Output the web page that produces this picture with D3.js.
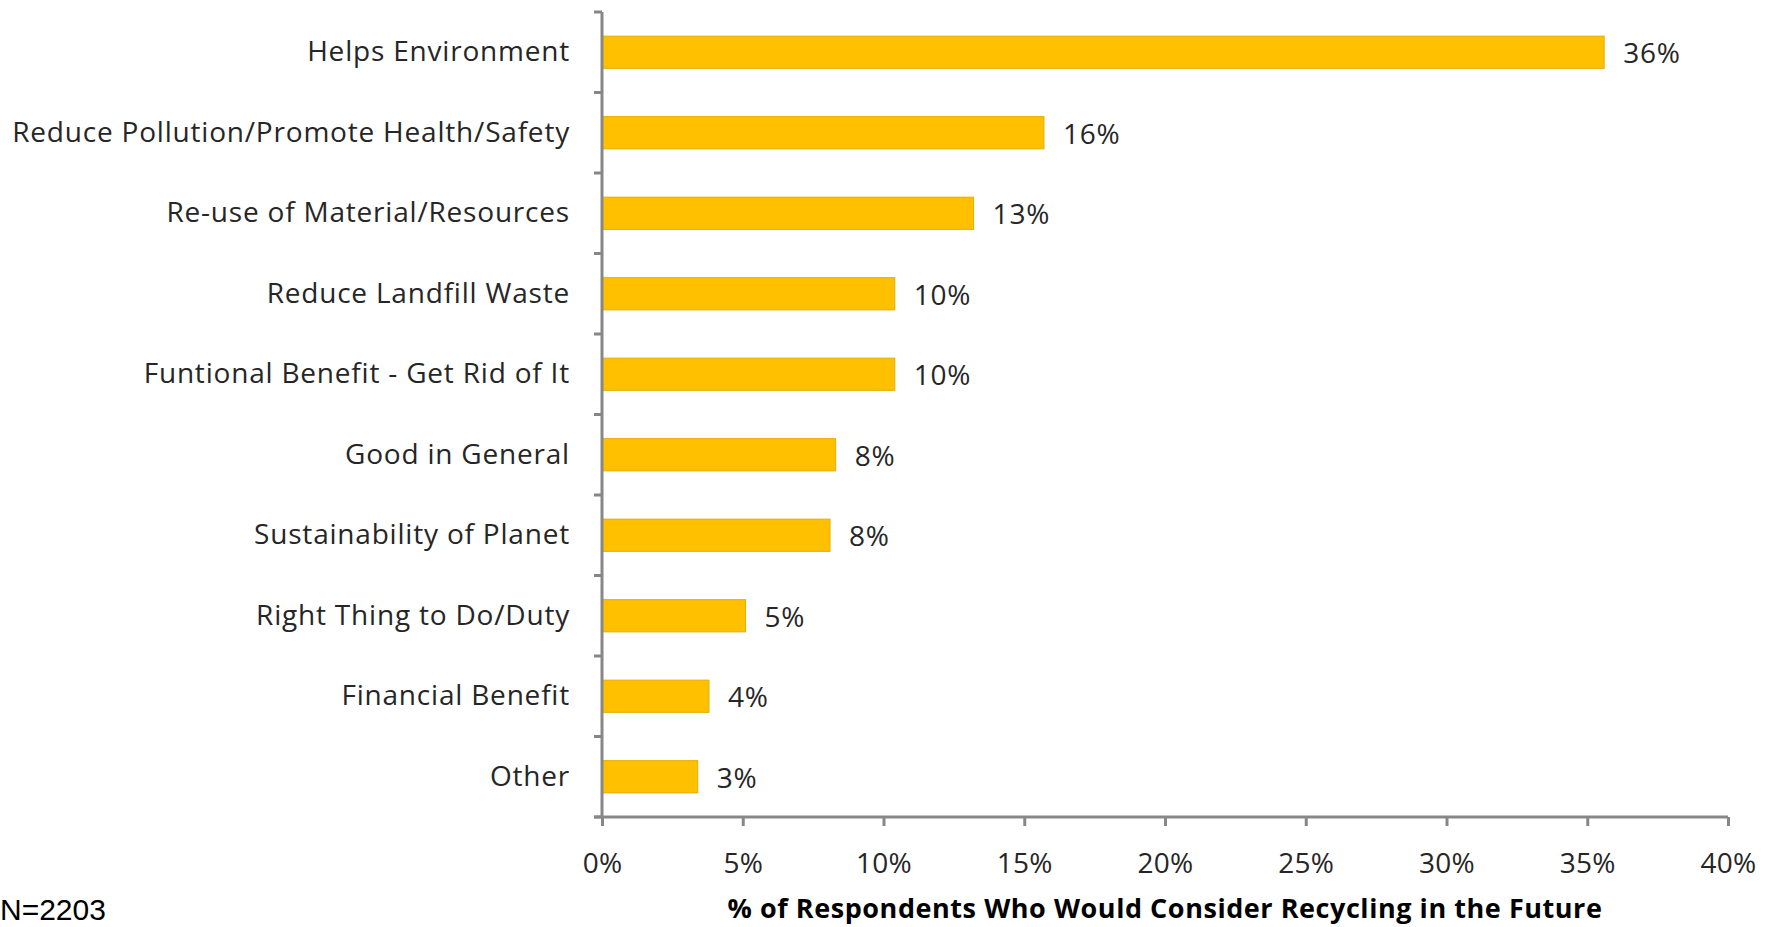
<!DOCTYPE html>
<html>
<head>
<meta charset="utf-8">
<script src="https://cdn.jsdelivr.net/npm/d3@7"></script>
<style>
  html, body { margin: 0; padding: 0; background: #fff; }
  svg { display: block; }
</style>
</head>
<body>
<svg id="chart" width="1765" height="927"></svg>
<script>
const categories = [
  "Helps Environment",
  "Reduce Pollution/Promote Health/Safety",
  "Re-use of Material/Resources",
  "Reduce Landfill Waste",
  "Funtional Benefit - Get Rid of It",
  "Good in General",
  "Sustainability of Planet",
  "Right Thing to Do/Duty",
  "Financial Benefit",
  "Other"
];
const values = [35.6, 15.7, 13.2, 10.4, 10.4, 8.3, 8.1, 5.1, 3.8, 3.4];
const valueLabels = ["36%", "16%", "13%", "10%", "10%", "8%", "8%", "5%", "4%", "3%"];
const xTicks = [0, 5, 10, 15, 20, 25, 30, 35, 40];
const xTitle = "% of Respondents Who Would Consider Recycling in the Future";
const note = "N=2203";

(function () {
const svg = d3.select("#chart");
const mLeft = 602, mRight = 1728, mTop = 12, mBottom = 817;
const axisColor = "#878787";
const textColor = "#262626";
const font = "'Open Sans', Lato, sans-serif";

const x = d3.scaleLinear().domain([0, 40]).range([mLeft, mRight]);
const y = d3.scaleBand().domain(categories).range([mTop, mBottom]).paddingInner(0.6).paddingOuter(0.3);

// bars
svg.append("g").selectAll("rect").data(categories).join("rect")
  .attr("x", x(0))
  .attr("y", d => y(d))
  .attr("width", (d, i) => x(values[i]) - x(0))
  .attr("height", y.bandwidth())
  .attr("fill", "#FFC000")
  .attr("stroke", "#E6AD00")
  .attr("stroke-width", 1);

// value labels
svg.append("g").selectAll("text").data(categories).join("text")
  .attr("x", (d, i) => x(values[i]) + 19)
  .attr("y", d => y(d) + y.bandwidth() / 2 + 1)
  .attr("dy", "0.35em")
  .attr("font-family", font)
  .attr("font-size", 28)
  .attr("letter-spacing", 0.8)
  .attr("fill", textColor)
  .text((d, i) => valueLabels[i]);

// y axis
const yBand = d3.scaleBand().domain(categories).range([mTop, mBottom]);
const yAxis = svg.append("g").attr("transform", `translate(${mLeft},0)`)
  .call(d3.axisLeft(yBand).tickSize(0).tickPadding(32));
yAxis.select(".domain").attr("stroke", axisColor).attr("stroke-width", 3)
  .attr("d", `M0,${mTop}V${mBottom}`);
yAxis.selectAll(".tick text")
  .attr("font-family", font).attr("font-size", 28).attr("letter-spacing", 0.8).attr("fill", textColor);
const bounds = d3.range(categories.length + 1).map(i => mTop + i * yBand.step());
svg.append("g").selectAll("line").data(bounds).join("line")
  .attr("x1", mLeft - 8).attr("x2", mLeft)
  .attr("y1", d => d).attr("y2", d => d)
  .attr("stroke", axisColor).attr("stroke-width", 3);

// x axis
const xAxis = svg.append("g").attr("transform", `translate(0,${mBottom})`)
  .call(d3.axisBottom(x).tickValues(xTicks).tickFormat(d => d + "%").tickSize(9).tickSizeOuter(0).tickPadding(27));
xAxis.select(".domain").attr("stroke", axisColor).attr("stroke-width", 3)
  .attr("d", `M${mLeft - 8},0H${mRight}`);
xAxis.selectAll(".tick line").attr("stroke", axisColor).attr("stroke-width", 3);
xAxis.selectAll(".tick text")
  .attr("font-family", font).attr("font-size", 28).attr("letter-spacing", 0.2).attr("fill", textColor);

svg.append("text")
  .attr("x", (mLeft + mRight) / 2)
  .attr("y", 918)
  .attr("text-anchor", "middle")
  .attr("font-family", font)
  .attr("font-weight", "bold")
  .attr("font-size", 27)
  .attr("letter-spacing", 0.55)
  .attr("fill", "#000")
  .text(xTitle);

svg.append("text")
  .attr("x", 0)
  .attr("y", 920)
  .attr("font-family", "'Liberation Sans', Arial, sans-serif")
  .attr("font-size", 30)
  .attr("fill", "#000")
  .text(note);
})();
</script>
</body>
</html>
